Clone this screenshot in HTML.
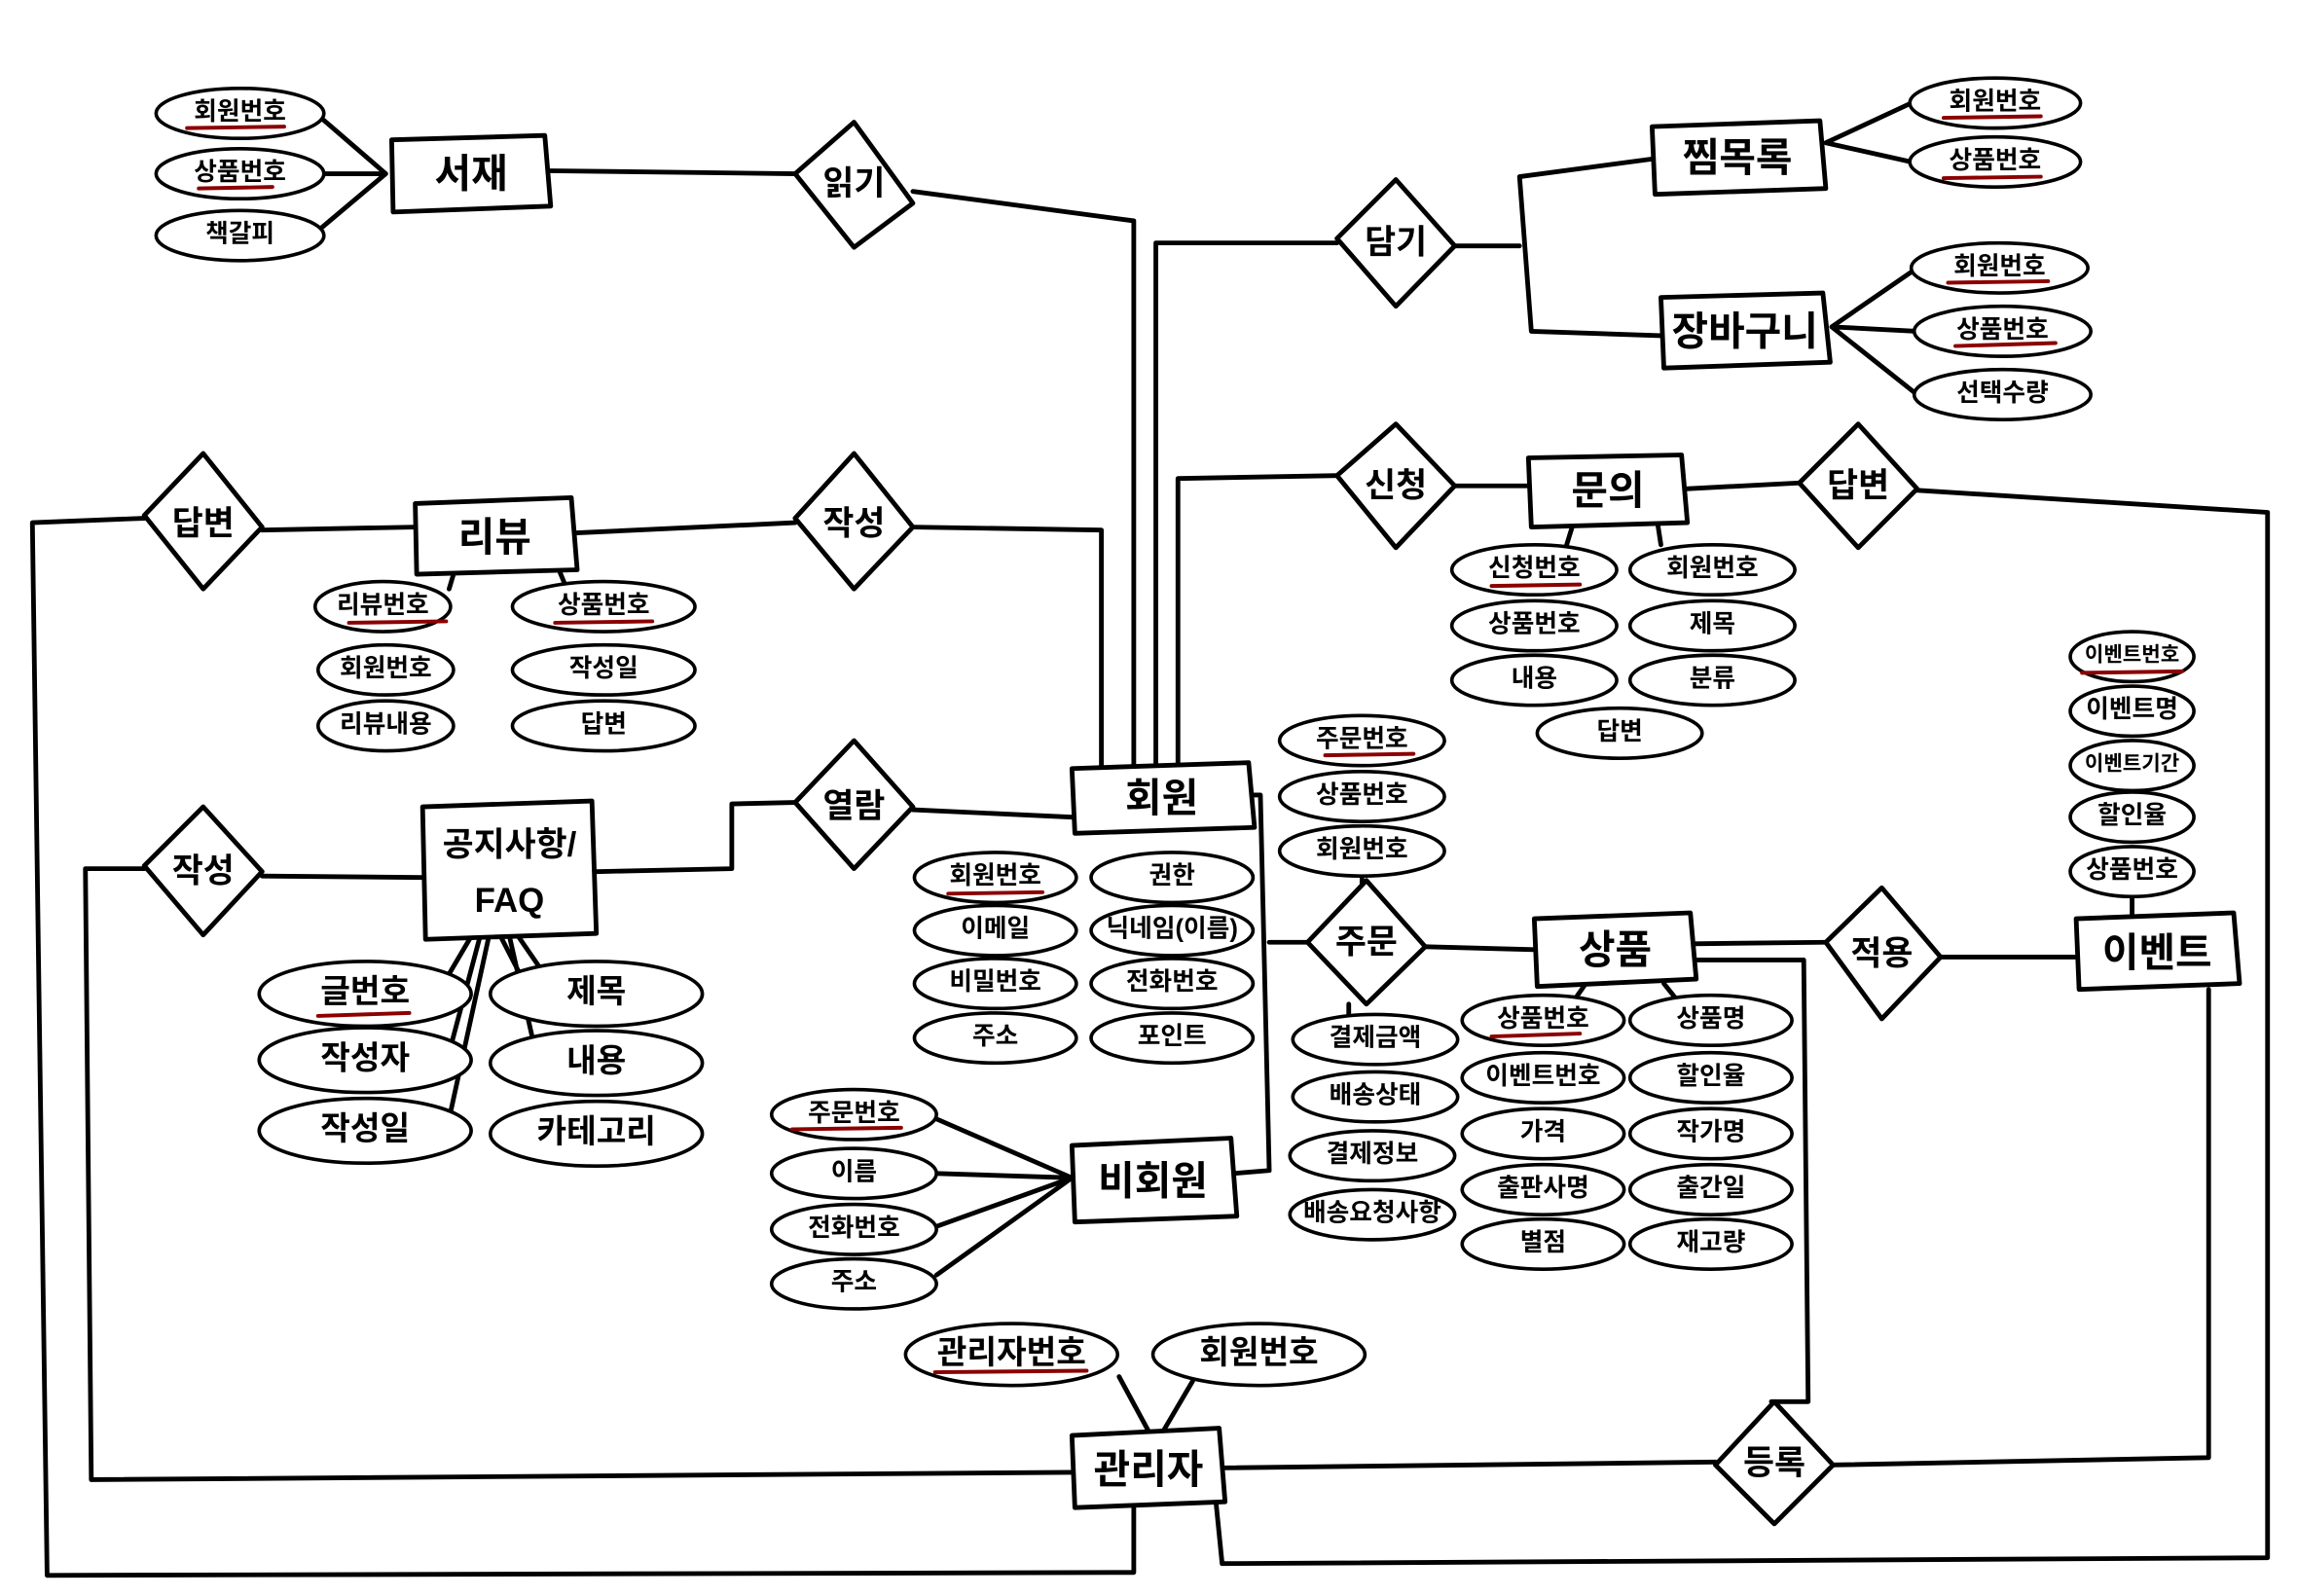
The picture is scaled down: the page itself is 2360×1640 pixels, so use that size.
<!DOCTYPE html>
<html><head><meta charset="utf-8"><style>
html,body{margin:0;padding:0;background:#fff;}
svg{display:block;}
text{font-family:"Liberation Sans","Noto Sans CJK KR",sans-serif;font-weight:bold;fill:#000;text-anchor:middle;dominant-baseline:central;}
.a{font-size:17px;}
.s{font-size:14px;}
.e{font-size:27px;}
.r{font-size:23px;}
</style></head><body>
<svg width="2360" height="1640" viewBox="0 0 1560 1084" preserveAspectRatio="none" xmlns="http://www.w3.org/2000/svg">
<g fill="none" stroke="#000" stroke-width="3.2" stroke-linejoin="round" stroke-linecap="round">
<path d="M218,80 L262,118 M218,118 L262,118 M218,155 L262,118"/>
<path d="M374,116 L540,118"/>
<path d="M620,130 L770,150 L770,520"/>
<path d="M908,165 L785,165 L785,520"/>
<path d="M988,167 L1032,167 M1032,120 L1040,225 M1032,120 L1122,108 M1040,225 L1128,228"/>
<path d="M1240,97 L1298,70 M1240,97 L1298,110"/>
<path d="M1244,222 L1302,182 M1244,222 L1302,225 M1244,222 L1302,268"/>
<path d="M98,352 L22,355 L32,1070 L770,1068 L770,1015"/>
<path d="M178,360 L282,358"/>
<path d="M390,362 L540,355"/>
<path d="M620,358 L748,360 L748,520"/>
<path d="M98,590 L58,590 L62,1005 L728,1000"/>
<path d="M178,595 L287,596"/>
<path d="M405,592 L497,590 L497,546 L540,545"/>
<path d="M620,550 L728,555"/>
<path d="M308,390 L305,400 M380,388 L385,400"/>
<path d="M320,636 L300,670 M326,636 L305,715 M332,636 L305,760 M340,636 L360,675 M346,636 L365,720 M352,636 L372,665"/>
<path d="M850,540 L856,540 L862,795 L838,797"/>
<path d="M862,640 L890,640"/>
<path d="M636,760 L728,800 M636,797 L728,800 M636,833 L728,800 M636,866 L728,800"/>
<path d="M760,935 L780,972 M810,938 L790,972"/>
<path d="M830,997 L1165,993"/>
<path d="M1245,995 L1500,990 L1500,672"/>
<path d="M826,1022 L830,1062 L1540,1058 L1540,348 L1302,333"/>
<path d="M1150,652 L1225,652 L1228,952 L1203,952"/>
<path d="M1150,641 L1240,640"/>
<path d="M1318,650 L1410,650"/>
<path d="M968,643 L1042,645"/>
<path d="M925,597 L925,600 M916,682 L916,689"/>
<path d="M1077,668 L1070,678 M1130,668 L1138,678"/>
<path d="M1448,610 L1448,622"/>
<path d="M800,520 L800,325 L908,323"/>
<path d="M988,330 L1038,330"/>
<path d="M1145,332 L1222,328"/>
<path d="M1068,357 L1064,370 M1126,357 L1128,370"/>
<path d="M266,95 L370,92 L374,140 L267,144 Z" fill="#fff"/>
<path d="M1122,86 L1236,82 L1240,128 L1124,132 Z" fill="#fff"/>
<path d="M1128,202 L1238,199 L1243,246 L1130,250 Z" fill="#fff"/>
<path d="M282,342 L388,338 L392,387 L283,390 Z" fill="#fff"/>
<path d="M287,548 L402,544 L405,634 L289,638 Z" fill="#fff"/>
<path d="M728,522 L848,518 L852,562 L730,566 Z" fill="#fff"/>
<path d="M728,778 L836,773 L840,826 L730,830 Z" fill="#fff"/>
<path d="M728,975 L828,970 L832,1020 L730,1024 Z" fill="#fff"/>
<path d="M1038,311 L1142,309 L1146,355 L1040,358 Z" fill="#fff"/>
<path d="M1042,624 L1148,620 L1152,665 L1044,670 Z" fill="#fff"/>
<path d="M1410,624 L1517,620 L1521,668 L1412,672 Z" fill="#fff"/>
<g fill="#fff">
<path d="M580,83 L620,138 L580,168 L540,118 Z"/>
<path d="M948,122 L988,167 L948,208 L908,162 Z"/>
<path d="M138,308 L178,358 L138,400 L98,350 Z"/>
<path d="M580,308 L620,358 L580,400 L540,352 Z"/>
<path d="M138,548 L178,592 L138,635 L98,588 Z"/>
<path d="M580,503 L620,548 L580,590 L540,545 Z"/>
<path d="M948,288 L988,330 L948,372 L908,323 Z"/>
<path d="M1262,288 L1302,332 L1262,372 L1222,328 Z"/>
<path d="M928,598 L968,643 L928,682 L888,640 Z"/>
<path d="M1278,603 L1318,650 L1278,692 L1240,640 Z"/>
<path d="M1205,952 L1245,995 L1205,1035 L1165,995 Z"/>
</g>
</g>
<g fill="#fff" stroke="#000" stroke-width="2.4">
<ellipse cx="163" cy="77" rx="57" ry="17"/>
<ellipse cx="163" cy="118" rx="57" ry="17"/>
<ellipse cx="163" cy="160" rx="57" ry="17"/>
<ellipse cx="1355" cy="70" rx="58" ry="17"/>
<ellipse cx="1355" cy="110" rx="58" ry="17"/>
<ellipse cx="1358" cy="182" rx="60" ry="17"/>
<ellipse cx="1360" cy="225" rx="60" ry="17"/>
<ellipse cx="1360" cy="268" rx="60" ry="17"/>
<ellipse cx="260" cy="412" rx="46" ry="17"/>
<ellipse cx="410" cy="412" rx="62" ry="17"/>
<ellipse cx="262" cy="455" rx="46" ry="17"/>
<ellipse cx="410" cy="455" rx="62" ry="17"/>
<ellipse cx="262" cy="493" rx="46" ry="17"/>
<ellipse cx="410" cy="493" rx="62" ry="17"/>
<ellipse cx="248" cy="675" rx="72" ry="22"/>
<ellipse cx="248" cy="720" rx="72" ry="22"/>
<ellipse cx="248" cy="768" rx="72" ry="22"/>
<ellipse cx="405" cy="675" rx="72" ry="22"/>
<ellipse cx="405" cy="722" rx="72" ry="22"/>
<ellipse cx="405" cy="770" rx="72" ry="22"/>
<ellipse cx="676" cy="596" rx="55" ry="17"/>
<ellipse cx="796" cy="596" rx="55" ry="17"/>
<ellipse cx="676" cy="632" rx="55" ry="17"/>
<ellipse cx="796" cy="632" rx="55" ry="17"/>
<ellipse cx="676" cy="668" rx="55" ry="17"/>
<ellipse cx="796" cy="668" rx="55" ry="17"/>
<ellipse cx="676" cy="705" rx="55" ry="17"/>
<ellipse cx="796" cy="705" rx="55" ry="17"/>
<ellipse cx="580" cy="757" rx="56" ry="17"/>
<ellipse cx="580" cy="797" rx="56" ry="17"/>
<ellipse cx="580" cy="835" rx="56" ry="17"/>
<ellipse cx="580" cy="872" rx="56" ry="17"/>
<ellipse cx="687" cy="920" rx="72" ry="21"/>
<ellipse cx="855" cy="920" rx="72" ry="21"/>
<ellipse cx="1042" cy="387" rx="56" ry="17"/>
<ellipse cx="1163" cy="387" rx="56" ry="17"/>
<ellipse cx="1042" cy="425" rx="56" ry="17"/>
<ellipse cx="1163" cy="425" rx="56" ry="17"/>
<ellipse cx="1042" cy="462" rx="56" ry="17"/>
<ellipse cx="1163" cy="462" rx="56" ry="17"/>
<ellipse cx="1100" cy="498" rx="56" ry="17"/>
<ellipse cx="925" cy="503" rx="56" ry="17"/>
<ellipse cx="925" cy="541" rx="56" ry="17"/>
<ellipse cx="925" cy="578" rx="56" ry="17"/>
<ellipse cx="934" cy="706" rx="56" ry="17"/>
<ellipse cx="934" cy="745" rx="56" ry="17"/>
<ellipse cx="932" cy="785" rx="56" ry="17"/>
<ellipse cx="932" cy="825" rx="56" ry="17"/>
<ellipse cx="1048" cy="693" rx="55" ry="17"/>
<ellipse cx="1162" cy="693" rx="55" ry="17"/>
<ellipse cx="1048" cy="732" rx="55" ry="17"/>
<ellipse cx="1162" cy="732" rx="55" ry="17"/>
<ellipse cx="1048" cy="770" rx="55" ry="17"/>
<ellipse cx="1162" cy="770" rx="55" ry="17"/>
<ellipse cx="1048" cy="808" rx="55" ry="17"/>
<ellipse cx="1162" cy="808" rx="55" ry="17"/>
<ellipse cx="1048" cy="845" rx="55" ry="17"/>
<ellipse cx="1162" cy="845" rx="55" ry="17"/>
<ellipse cx="1448" cy="446" rx="42" ry="17"/>
<ellipse cx="1448" cy="483" rx="42" ry="17"/>
<ellipse cx="1448" cy="520" rx="42" ry="17"/>
<ellipse cx="1448" cy="555" rx="42" ry="17"/>
<ellipse cx="1448" cy="592" rx="42" ry="17"/>
</g>
<g stroke="#8b0000" stroke-width="2.6" stroke-linecap="round" fill="none">
<path d="M127,87 L193,86"/><path d="M135,128 L185,127"/>
<path d="M1320,80 L1386,79"/><path d="M1320,121 L1386,120"/>
<path d="M1323,192 L1391,191"/><path d="M1328,235 L1396,233"/>
<path d="M237,423 L303,422"/><path d="M377,423 L443,422"/>
<path d="M216,690 L278,688"/>
<path d="M644,607 L708,606"/>
<path d="M538,767 L612,766"/>
<path d="M635,932 L738,931"/>
<path d="M1013,398 L1073,397"/>
<path d="M900,513 L960,512"/>
<path d="M1013,704 L1073,702"/>
<path d="M1414,457 L1482,456"/>
</g>
<g class="e">
<text x="320" y="118">서재</text>
<text x="1180" y="107">찜목록</text>
<text x="1185" y="225">장바구니</text>
<text x="336" y="365">리뷰</text>
<text x="789" y="542">회원</text>
<text x="783" y="802">비회원</text>
<text x="780" y="998">관리자</text>
<text x="1092" y="333">문의</text>
<text x="1097" y="645">상품</text>
<text x="1465" y="647">이벤트</text>
</g>
<text class="r" x="346" y="574">공지사항/</text>
<text class="r" x="346" y="612">FAQ</text>
<g class="r">
<text x="580" y="125">읽기</text>
<text x="948" y="165">담기</text>
<text x="138" y="356">답변</text>
<text x="580" y="356">작성</text>
<text x="138" y="592">작성</text>
<text x="580" y="548">열람</text>
<text x="948" y="330">신청</text>
<text x="1262" y="330">답변</text>
<text x="928" y="640">주문</text>
<text x="1278" y="648">적용</text>
<text x="1205" y="994">등록</text>
</g>
<g class="a">
<text x="163" y="76">회원번호</text><text x="163" y="117">상품번호</text><text x="163" y="159">책갈피</text>
<text x="1355" y="69">회원번호</text><text x="1355" y="109">상품번호</text>
<text x="1358" y="181">회원번호</text><text x="1360" y="224">상품번호</text><text x="1360" y="267">선택수량</text>
<text x="260" y="411">리뷰번호</text><text x="410" y="411">상품번호</text>
<text x="262" y="454">회원번호</text><text x="410" y="454">작성일</text>
<text x="262" y="492">리뷰내용</text><text x="410" y="492">답변</text>
<text x="676" y="595">회원번호</text><text x="796" y="595">권한</text>
<text x="676" y="631">이메일</text><text x="796" y="631">닉네임(이름)</text>
<text x="676" y="667">비밀번호</text><text x="796" y="667">전화번호</text>
<text x="676" y="704">주소</text><text x="796" y="704">포인트</text>
<text x="580" y="756">주문번호</text><text x="580" y="796">이름</text>
<text x="580" y="834">전화번호</text><text x="580" y="871">주소</text>
<text x="1042" y="386">신청번호</text><text x="1163" y="386">회원번호</text>
<text x="1042" y="424">상품번호</text><text x="1163" y="424">제목</text>
<text x="1042" y="461">내용</text><text x="1163" y="461">분류</text>
<text x="1100" y="497">답변</text>
<text x="925" y="502">주문번호</text><text x="925" y="540">상품번호</text><text x="925" y="577">회원번호</text>
<text x="934" y="705">결제금액</text><text x="934" y="744">배송상태</text>
<text x="932" y="784">결제정보</text><text x="932" y="824">배송요청사항</text>
<text x="1048" y="692">상품번호</text><text x="1162" y="692">상품명</text>
<text x="1048" y="731">이벤트번호</text><text x="1162" y="731">할인율</text>
<text x="1048" y="769">가격</text><text x="1162" y="769">작가명</text>
<text x="1048" y="807">출판사명</text><text x="1162" y="807">출간일</text>
<text x="1048" y="844">별점</text><text x="1162" y="844">재고량</text>
<text x="1448" y="482">이벤트명</text>
<text x="1448" y="554">할인율</text>
<text x="1448" y="591">상품번호</text>
</g>
<g class="s">
<text x="1448" y="445">이벤트번호</text>
<text x="1448" y="519">이벤트기간</text>
</g>
<g style="font-size:22px">
<text x="248" y="674">글번호</text><text x="248" y="719">작성자</text><text x="248" y="767">작성일</text>
<text x="405" y="674">제목</text><text x="405" y="721">내용</text><text x="405" y="769">카테고리</text>
<text x="687" y="919">관리자번호</text><text x="855" y="919">회원번호</text>
</g>
</svg>
</body></html>
